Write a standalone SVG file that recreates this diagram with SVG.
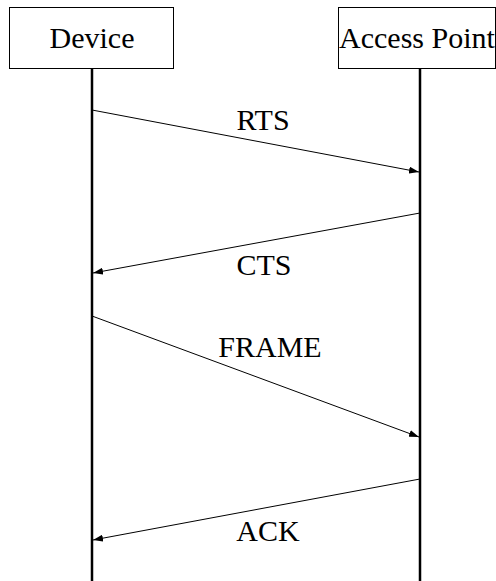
<svg xmlns="http://www.w3.org/2000/svg" width="496" height="581" viewBox="0 0 496 581">
<style>
.box{fill:#fff;stroke:#000;stroke-width:1}
.life{stroke:#000;stroke-width:2.5}
.msg{stroke:#000;stroke-width:1;fill:none;marker-end:url(#ah)}
.lbl{font-family:'Liberation Serif',serif;font-size:30px;fill:#000;text-anchor:middle}
</style>
<defs>
<marker id="ah" viewBox="0 0 10 7" refX="10" refY="3.5" markerWidth="10" markerHeight="7" markerUnits="userSpaceOnUse" orient="auto">
<path d="M0,0 L10,3.5 L0,7 Z" fill="#000"/>
</marker>
</defs>
<g id="lifelines">
<line class="life" x1="92" y1="69" x2="92" y2="581"/>
<line class="life" x1="420" y1="69" x2="420" y2="581"/>
</g>
<g id="device">
<rect class="box" x="9.5" y="7.5" width="164" height="61"/>
<text class="lbl" font-family="Liberation Serif, serif" x="92" y="48">Device</text>
</g>
<g id="access-point">
<rect class="box" x="338.5" y="7.5" width="157" height="61"/>
<text class="lbl" font-family="Liberation Serif, serif" x="417" y="48">Access Point</text>
</g>
<g id="connectors">
<line class="msg" x1="92" y1="110" x2="419" y2="172"/>
<line class="msg" x1="420" y1="213" x2="93" y2="273"/>
<line class="msg" x1="92" y1="316" x2="419" y2="437"/>
<line class="msg" x1="420" y1="479" x2="93" y2="540"/>
</g>
<g id="labels">
<text class="lbl" x="263" y="130">RTS</text>
<text class="lbl" x="264" y="275">CTS</text>
<text class="lbl" x="270" y="357">FRAME</text>
<text class="lbl" x="268" y="541">ACK</text>
</g>
</svg>
